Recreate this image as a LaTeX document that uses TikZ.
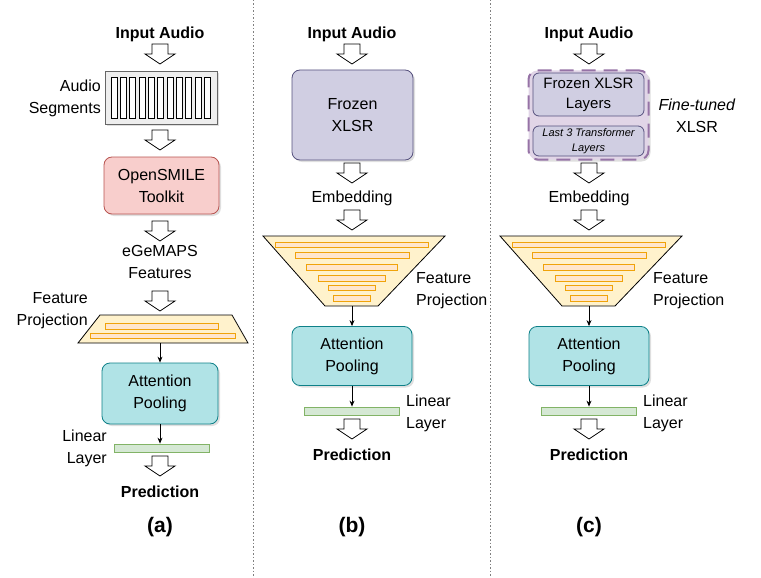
\documentclass[tikz,border=0pt]{standalone}
\usepackage{fontspec}
\setmainfont{Liberation Sans}
\usetikzlibrary{shadows,arrows.meta}
\definecolor{segF}{HTML}{EEEEEE}\definecolor{segD}{HTML}{666666}
\definecolor{redF}{HTML}{F8CECC}\definecolor{redD}{HTML}{B85450}
\definecolor{yelF}{HTML}{FFF2CC}\definecolor{yelD}{HTML}{D6B656}
\definecolor{barD}{HTML}{F0A30A}\definecolor{barF}{HTML}{FFE6CC}
\definecolor{cyanF}{HTML}{B0E3E6}\definecolor{cyanD}{HTML}{0E8088}
\definecolor{grnF}{HTML}{D5E8D4}\definecolor{grnD}{HTML}{82B366}
\definecolor{purF}{HTML}{D0CEE2}\definecolor{purD}{HTML}{56517E}
\definecolor{vioF}{HTML}{E1D5E7}\definecolor{vioD}{HTML}{9673A6}
\tikzset{
 txt/.style={font=\fontsize{16}{22}\selectfont, align=center, inner sep=0},
 ttl/.style={font=\fontsize{16}{20}\selectfont\bfseries, inner sep=0},
 lbl/.style={font=\fontsize{21}{24}\selectfont\bfseries, inner sep=0},
 sh/.style={drop shadow={opacity=0.25,shadow xshift=2pt,shadow yshift=-2pt}},
 rbox/.style={draw, rounded corners=8pt, line width=0.8pt, sh, txt},
 bar/.style={draw=barD, fill=barF, line width=0.8pt},
 thin/.style={-{Stealth[length=6pt,width=5pt]}, line width=0.8pt},
 pics/barrow/.style={code={
   \draw[fill=white, line width=0.8pt] (-8,0) -- (8,0) -- (8,10) -- (15,10) -- (0,20) -- (-15,10) -- (-8,10) -- cycle;}},
}
\begin{document}
\begin{tikzpicture}[x=1pt,y=-1pt]
\useasboundingbox (0,0) rectangle (761,578);
\draw[gray, dash pattern=on 1.5pt off 2pt, line width=0.7pt] (253,0) -- (253,578) (490,0) -- (490,578);

% ---------- (a)
\node[ttl] (ia) at (160,34) {Input Audio};
\pic at (160,44) {barrow};
\node[draw=segD, fill=segF, line width=0.8pt, sh, minimum width=112pt, minimum height=53pt, inner sep=0] (seg) at (161,97.5) {};
\foreach \i in {0,...,10} \draw[line width=0.7pt, fill=white] (111+\i*9.35,77) rectangle ++(6,41);
\node[txt, align=right, anchor=east] (segl) at (101,98) {Audio\\Segments};
\pic at (160,130) {barrow};
\node[rbox, fill=redF, draw=redD, minimum width=115pt, minimum height=57pt] (os) at (161.5,185.5) {OpenSMILE\\Toolkit};
\pic at (160,221) {barrow};
\node[txt] (eg) at (160,262) {eGeMAPS\\Features};
\pic at (160,291) {barrow};
\draw[fill=yelF, line width=0.8pt] (100,315) coordinate (fpa) -- (232,315) -- (248,343) -- (78,343) -- cycle;
\coordinate (fpab) at (160,343);
\draw[bar] (105,323) rectangle (218,329);
\draw[bar] (90,333) rectangle (235,338);
\node[txt, align=right, anchor=east] (fpl) at (88,311) {Feature\\Projection};
\node[rbox, fill=cyanF, draw=cyanD, minimum width=116pt, minimum height=61pt] (apa) at (160,393.5) {Attention\\Pooling};
\draw[thin] (fpab) -- (apa.north);
\node[draw=grnD, fill=grnF, line width=0.8pt, minimum width=95pt, minimum height=8pt, inner sep=0] (lla) at (161.5,448) {};
\draw[thin] (apa.south) -- (lla.north -| apa.south);
\node[txt, align=right, anchor=east] (llal) at (107,448) {Linear\\Layer};
\pic at (160,456) {barrow};
\node[ttl] (pa) at (160,492) {Prediction};
\node[lbl] (la) at (160,527) {(a)};

% ---------- (b) and (c)
\foreach \c/\n in {352/b,589/c}{
  \node[ttl] (i\n) at (\c,34) {Input Audio};
  \pic at (\c,44) {barrow};
  \pic at (\c,163) {barrow};
  \node[txt] (e\n) at (\c,198) {Embedding};
  \pic at (\c,210) {barrow};
  \draw[fill=yelF, line width=0.8pt] (\c-89,236) -- (\c+93,236) -- (\c+26,306) -- (\c-27,306) -- cycle;
  \coordinate (fp\n) at (\c,306);
  \draw[bar] (\c-77,242) rectangle (\c+76,247);
  \draw[bar] (\c-57,252) rectangle (\c+57,258);
  \draw[bar] (\c-46,264) rectangle (\c+45,270);
  \draw[bar] (\c-34,275) rectangle (\c+33,281);
  \draw[bar] (\c-24,285) rectangle (\c+23,290);
  \draw[bar] (\c-19,295) rectangle (\c+18,301);
  \node[txt, align=left, anchor=west] (fpl\n) at (\c+64,291) {Feature\\Projection};
  \node[rbox, fill=cyanF, draw=cyanD, minimum width=120pt, minimum height=59pt] (ap\n) at (\c,356) {Attention\\Pooling};
  \draw[thin] (fp\n) -- (ap\n.north);
  \node[draw=grnD, fill=grnF, line width=0.8pt, minimum width=95pt, minimum height=8pt, inner sep=0] (ll\n) at (\c,411) {};
  \draw[thin] (ap\n.south) -- (ll\n.north);
  \node[txt, align=left, anchor=west] (lll\n) at (\c+54,413) {Linear\\Layer};
  \pic at (\c,419) {barrow};
  \node[ttl] (p\n) at (\c,455) {Prediction};
}
\node[lbl] (lb) at (352,527) {(b)};
\node[lbl] (lc) at (589,527) {(c)};

\node[rbox, fill=purF, draw=purD, minimum width=121pt, minimum height=90pt] (fx) at (352.5,115) {Frozen\\XLSR};

\node[draw=vioD, fill=vioF, line width=2pt, dash pattern=on 14pt off 8pt, rounded corners=9pt, sh, minimum width=120pt, minimum height=89pt, inner sep=0] (ft) at (588.5,115) {};
\node[draw=purD, fill=purF, line width=0.8pt, rounded corners=6pt, font=\fontsize{15}{20}\selectfont, align=center, inner sep=0, minimum width=111pt, minimum height=43pt] (fz) at (588.5,94.5) {Frozen XLSR\\Layers};
\node[draw=purD, fill=purF, line width=0.8pt, rounded corners=6pt, minimum width=111pt, minimum height=30pt, inner sep=0, align=center, font=\fontsize{11}{15}\selectfont\itshape] (l3) at (588.5,141) {Last 3 Transformer\\Layers};
\node[txt] (ftl) at (697,116) {\textit{Fine-tuned}\\XLSR};
\end{tikzpicture}
\end{document}
